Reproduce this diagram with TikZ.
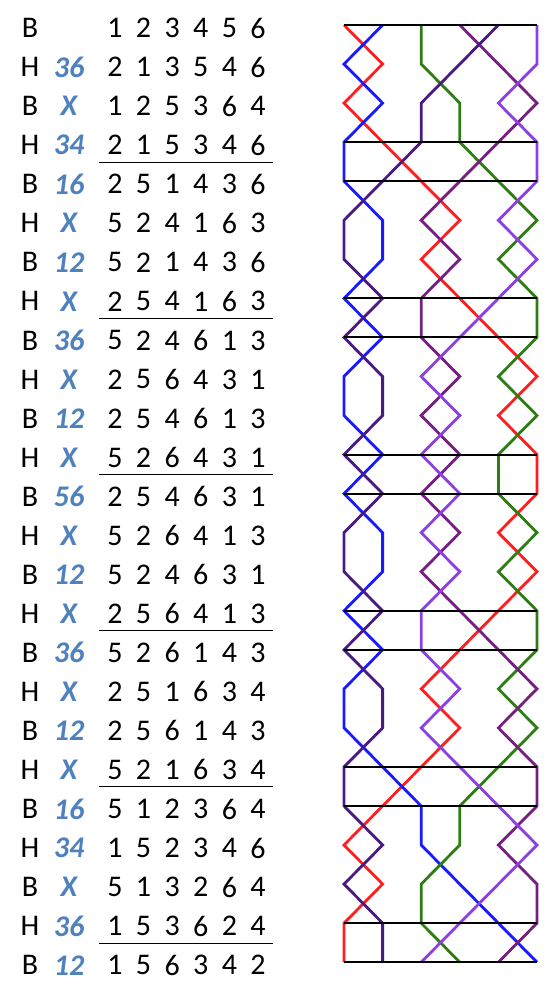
\documentclass[tikz,border=0pt]{standalone}
\usepackage{fontspec}
\setmainfont{Carlito}
\definecolor{bellred}{RGB}{255,30,30}
\definecolor{bellblue}{RGB}{25,25,255}
\definecolor{bellgreen}{RGB}{46,125,20}
\definecolor{bellpurple}{RGB}{118,30,130}
\definecolor{bellindigo}{RGB}{72,26,130}
\definecolor{bellviolet}{RGB}{140,64,225}
\definecolor{pnblue}{RGB}{79,129,189}
\newcommand\ringrow[4]{%
  \node[strokelab] (s#1) at (30,{-(28+39.05*#1)}) {#2};
  \if\relax\detokenize{#3}\relax\else
    \node[pnlab] (p#1) at (69,{-(28+39.05*#1)}) {#3};
  \fi
  \coordinate (L#1) at (344,{-(25+39.05*#1)});
  \coordinate (R#1) at (537,{-(25+39.05*#1)});
  \coordinate (UL#1) at (99,{-(45+39.05*#1)});
  \coordinate (UR#1) at (273,{-(45+39.05*#1)});
  \foreach \b [count=\p] in {#4} {
    \node[numlab] (n#1-\p) at ({115+28.6*(\p-1)},{-(28+39.05*#1)}) {\b};
    \coordinate (b\b-#1) at ({344+38.6*(\p-1)},{-(25+39.05*#1)});
  }%
}
\begin{document}
\begin{tikzpicture}[x=1pt,y=1pt,
  strokelab/.style={inner sep=0pt,font=\fontsize{30}{36}\selectfont,text=black},
  pnlab/.style={inner sep=0pt,font=\fontsize{30}{36}\selectfont\bfseries\itshape,text=pnblue},
  numlab/.style={inner sep=0pt,font=\fontsize{30}{36}\selectfont,text=black},
  bellline/.style={line width=2.8pt,line join=miter},
  changeline/.style={line width=2.1pt,black},
  leadline/.style={line width=1pt,black}]
\useasboundingbox (0,0) rectangle (559,-983);
\ringrow{0}{B}{}{1,2,3,4,5,6}
\ringrow{1}{H}{36}{2,1,3,5,4,6}
\ringrow{2}{B}{X}{1,2,5,3,6,4}
\ringrow{3}{H}{34}{2,1,5,3,4,6}
\ringrow{4}{B}{16}{2,5,1,4,3,6}
\ringrow{5}{H}{X}{5,2,4,1,6,3}
\ringrow{6}{B}{12}{5,2,1,4,3,6}
\ringrow{7}{H}{X}{2,5,4,1,6,3}
\ringrow{8}{B}{36}{5,2,4,6,1,3}
\ringrow{9}{H}{X}{2,5,6,4,3,1}
\ringrow{10}{B}{12}{2,5,4,6,1,3}
\ringrow{11}{H}{X}{5,2,6,4,3,1}
\ringrow{12}{B}{56}{2,5,4,6,3,1}
\ringrow{13}{H}{X}{5,2,6,4,1,3}
\ringrow{14}{B}{12}{5,2,4,6,3,1}
\ringrow{15}{H}{X}{2,5,6,4,1,3}
\ringrow{16}{B}{36}{5,2,6,1,4,3}
\ringrow{17}{H}{X}{2,5,1,6,3,4}
\ringrow{18}{B}{12}{2,5,6,1,4,3}
\ringrow{19}{H}{X}{5,2,1,6,3,4}
\ringrow{20}{B}{16}{5,1,2,3,6,4}
\ringrow{21}{H}{34}{1,5,2,3,4,6}
\ringrow{22}{B}{X}{5,1,3,2,6,4}
\ringrow{23}{H}{36}{1,5,3,6,2,4}
\ringrow{24}{B}{12}{1,5,6,3,4,2}
% lead-end underlines in the table
\foreach \k in {3,7,11,15,19,23} {\draw[leadline] (UL\k) -- (UR\k);}
% bell paths
\foreach \b/\c in {1/bellred,2/bellblue,3/bellgreen,4/bellpurple,5/bellindigo,6/bellviolet} {
  \draw[bellline,\c] (b\b-0) \foreach \k in {1,...,24} { -- (b\b-\k) };
}
% horizontal change lines
\foreach \k in {0,3,4,7,8,11,12,15,16,19,20,23,24} {\draw[changeline] (L\k) -- (R\k);}
\end{tikzpicture}
\end{document}
